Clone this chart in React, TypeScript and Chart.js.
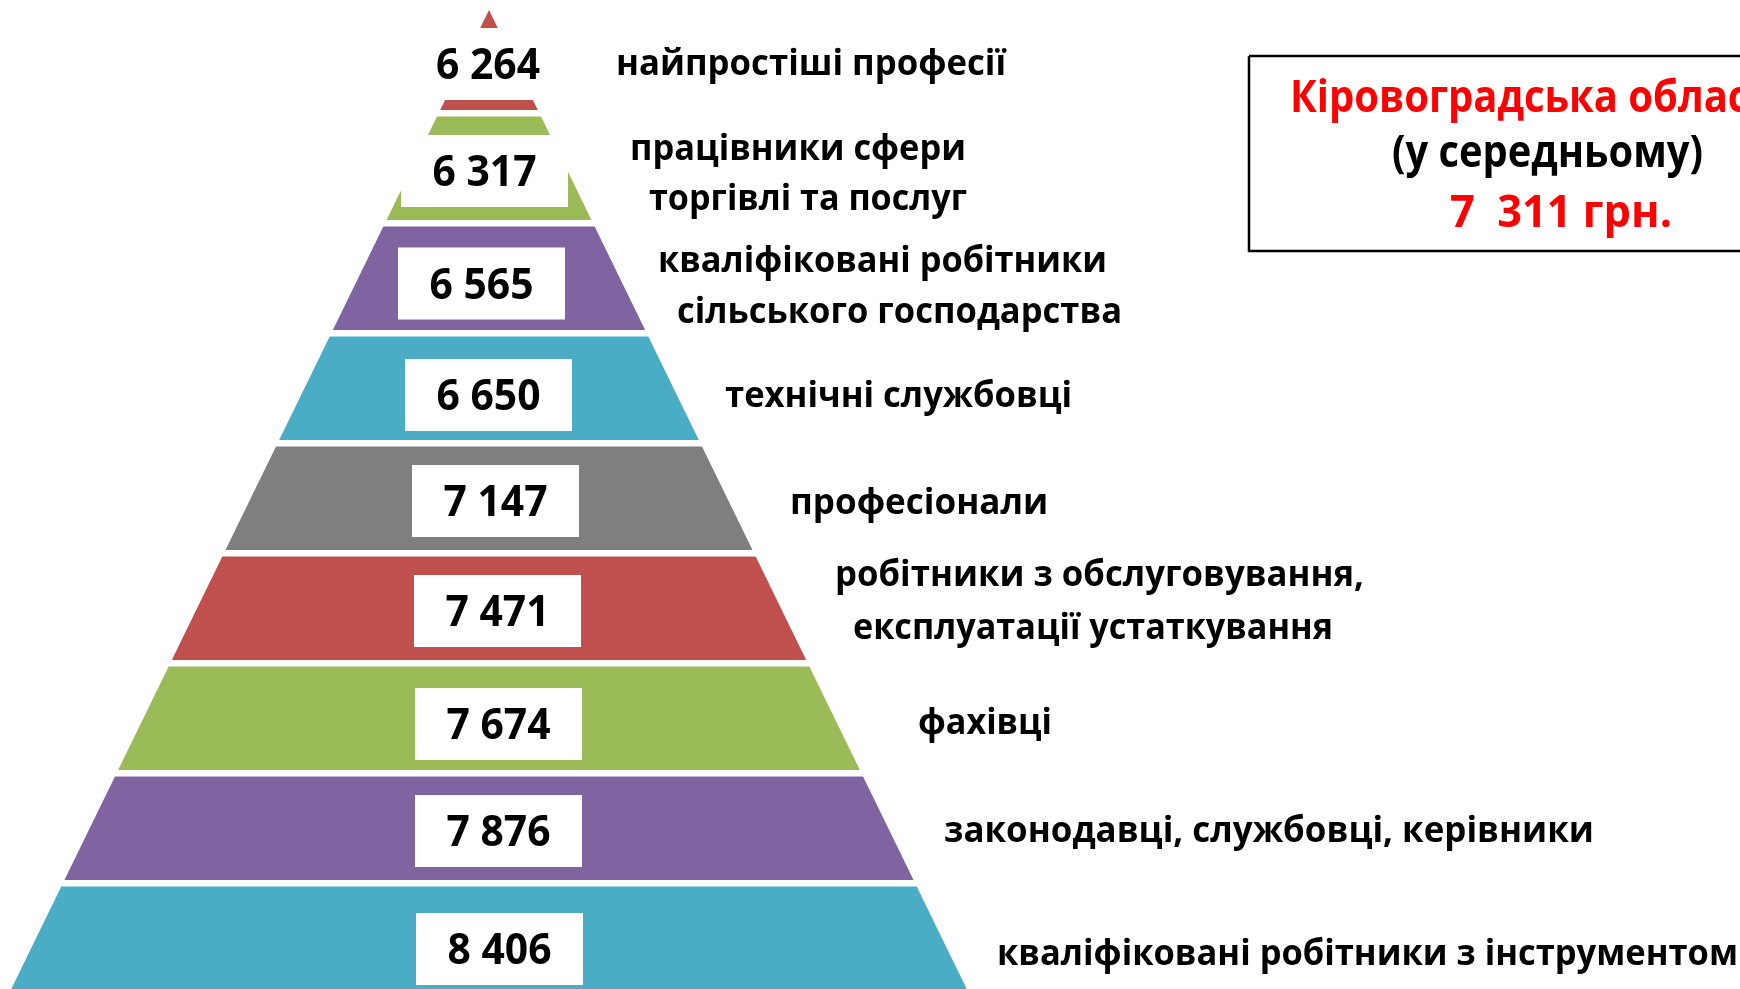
import { useEffect, useRef } from "react";
import { Chart, registerables } from "chart.js";

Chart.register(...registerables);

// ---------- DATA ----------
const occupations: string[][] = [
  ["найпростіші професії"],
  ["працівники сфери", "торгівлі та послуг"],
  ["кваліфіковані робітники", "сільського господарства"],
  ["технічні службовці"],
  ["професіонали"],
  ["робітники з обслуговування,", "експлуатації устаткування"],
  ["фахівці"],
  ["законодавці, службовці, керівники"],
  ["кваліфіковані робітники з інструментом"],
];
const wages: number[] = [6264, 6317, 6565, 6650, 7147, 7471, 7674, 7876, 8406];
const regionName = "Кіровоградська область";
const averageNote = "(у середньому)";
const averageWage = 7311;
const currency = "грн.";

// ---------- STYLE / LAYOUT ----------
const W = 1740;
const H = 989;
const LAYER_COLORS = ["#C0504D", "#9BBB59", "#8064A2", "#4BACC6", "#7F7F7F", "#C0504D", "#9BBB59", "#8064A2", "#4BACC6"];
const APEX_X = 489;
const APEX_Y = 10;
const HALF_SLOPE = 0.488;
const LAYER_START = 6.5;
const LAYER_PITCH = 110;
const LAYER_H = 103.5;

const BOX_CX = [488, 484.5, 481.5, 488.5, 495.5, 497.5, 498.5, 498.5, 499.5];
const BOX_CY = [64, 171, 283.5, 395, 501, 611, 724, 831, 949];
const BOX_W = 167;
const BOX_H = 72;

// [left x, baseline y, max width] per label line
const LABEL_POS: number[][][] = [
  [[616, 75, 390]],
  [[630, 160, 336], [649, 210, 318]],
  [[658, 272, 449], [677, 323, 445]],
  [[725, 407, 347]],
  [[790, 514, 260]],
  [[835, 586, 529], [853, 639, 480]],
  [[918, 734, 134]],
  [[944, 842, 650]],
  [[997, 965, 741]],
];

const TITLE_BOX = { x1: 1249, y1: 56, x2: 1800, y2: 251 };

const fmt = (v: number) => `${Math.floor(v / 1000)} ${String(v % 1000).padStart(3, "0")}`;
const fmtAvg = (v: number) => `${Math.floor(v / 1000)}  ${String(v % 1000).padStart(3, "0")} ${currency}`;

const halfWidth = (y: number) => HALF_SLOPE * Math.max(0, y - APEX_Y);

function layerPolygon(k: number) {
  const top = Math.max(APEX_Y, LAYER_START + LAYER_PITCH * k);
  const bottom = LAYER_START + LAYER_PITCH * k + LAYER_H;
  const ht = halfWidth(top);
  const hb = halfWidth(bottom);
  return [
    { x: APEX_X - ht, y: top },
    { x: APEX_X + ht, y: top },
    { x: APEX_X + hb, y: bottom },
    { x: APEX_X - hb, y: bottom },
    { x: APEX_X - ht, y: top },
  ];
}

function rectPolygon(x1: number, y1: number, x2: number, y2: number) {
  return [
    { x: x1, y: y1 },
    { x: x2, y: y1 },
    { x: x2, y: y2 },
    { x: x1, y: y2 },
    { x: x1, y: y1 },
  ];
}

const FONT = "'Open Sans', 'Noto Sans', sans-serif";

const textPlugin = {
  id: "pyramidText",
  afterDatasetsDraw(chart: any) {
    const ctx = chart.ctx as CanvasRenderingContext2D;
    const xs = chart.scales.x;
    const ys = chart.scales.y;
    const px = (v: number) => xs.getPixelForValue(v);
    const py = (v: number) => ys.getPixelForValue(v);
    ctx.save();
    ctx.textBaseline = "alphabetic";
    // values inside boxes
    ctx.fillStyle = "#000000";
    ctx.textAlign = "center";
    ctx.font = `bold 43px ${FONT}`;
    wages.forEach((v, i) => {
      ctx.fillText(fmt(v), px(BOX_CX[i]), py(BOX_CY[i] + 15), 104);
    });
    // occupation labels
    ctx.textAlign = "left";
    ctx.font = `bold 35px ${FONT}`;
    occupations.forEach((lines, i) => {
      lines.forEach((line, j) => {
        const [x, y, mw] = LABEL_POS[i][j];
        ctx.fillText(line, px(x), py(y), mw);
      });
    });
    // title box text
    ctx.font = `bold 44px ${FONT}`;
    ctx.fillStyle = "#FF0000";
    ctx.fillText(regionName, px(1290), py(112), 505);
    ctx.fillStyle = "#000000";
    ctx.fillText(averageNote, px(1392), py(167), 311);
    ctx.fillStyle = "#FF0000";
    ctx.fillText(fmtAvg(averageWage), px(1450), py(227), 222);
    ctx.restore();
  },
};

export default function App() {
  const ref = useRef<HTMLCanvasElement | null>(null);

  useEffect(() => {
    document.body.style.margin = "0";
    const canvas = ref.current;
    if (!canvas) return;

    const layerSets = wages.map((_, k) => ({
      label: occupations[k].join(" "),
      data: layerPolygon(k),
      showLine: true,
      fill: "shape",
      backgroundColor: LAYER_COLORS[k],
      borderColor: LAYER_COLORS[k],
      borderWidth: 0,
      pointRadius: 0,
      tension: 0,
      order: 3,
    }));
    const boxSets = wages.map((_, k) => ({
      label: "box" + k,
      data: rectPolygon(BOX_CX[k] - BOX_W / 2, BOX_CY[k] - BOX_H / 2, BOX_CX[k] + BOX_W / 2, BOX_CY[k] + BOX_H / 2),
      showLine: true,
      fill: "shape",
      backgroundColor: "#FFFFFF",
      borderColor: "#FFFFFF",
      borderWidth: 0,
      pointRadius: 0,
      tension: 0,
      order: 2,
    }));
    const titleSet = {
      label: "title",
      data: rectPolygon(TITLE_BOX.x1, TITLE_BOX.y1, TITLE_BOX.x2, TITLE_BOX.y2),
      showLine: true,
      fill: "shape",
      backgroundColor: "#FFFFFF",
      borderColor: "#000000",
      borderWidth: 2.5,
      pointRadius: 0,
      tension: 0,
      order: 1,
    };

    const chart = new Chart(canvas, {
      type: "scatter",
      data: { datasets: [titleSet, ...boxSets, ...layerSets] as any },
      options: {
        animation: false,
        responsive: false,
        devicePixelRatio: 1,
        events: [],
        layout: { padding: 0 },
        plugins: { legend: { display: false }, tooltip: { enabled: false }, title: { display: false } },
        scales: {
          x: { type: "linear", min: 0, max: W, display: false },
          y: { type: "linear", min: 0, max: H, reverse: true, display: false },
        },
      } as any,
      plugins: [textPlugin],
    });
    return () => chart.destroy();
  }, []);

  return (
    <div style={{ width: W, height: H, background: "#FFFFFF" }}>
      <canvas ref={ref} width={W} height={H} style={{ display: "block" }} />
    </div>
  );
}
